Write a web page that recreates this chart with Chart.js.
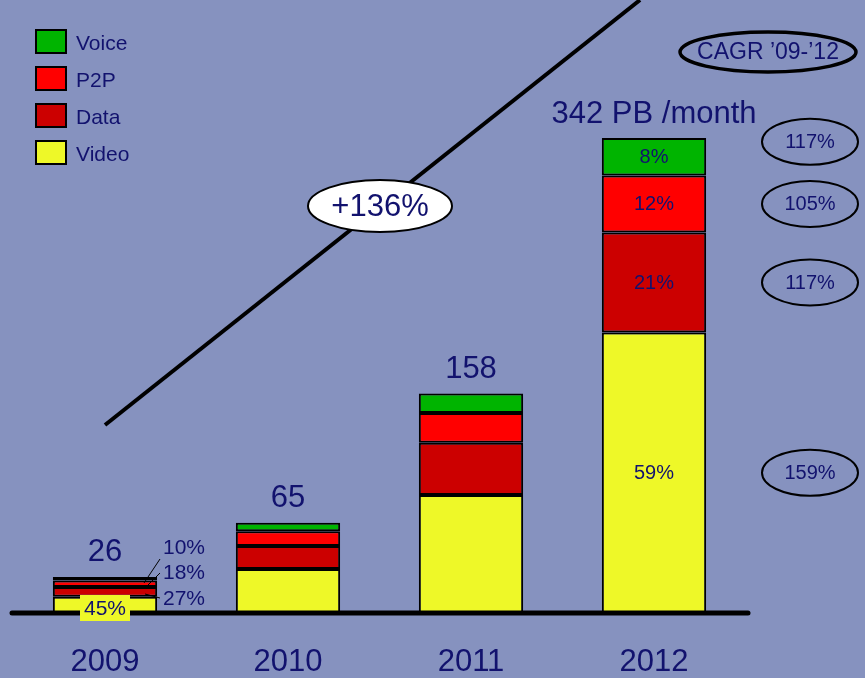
<!DOCTYPE html>
<html>
<head>
<meta charset="utf-8">
<script src="https://cdn.jsdelivr.net/npm/chart.js@4/dist/chart.umd.min.js"></script>
<style>
  html, body { margin: 0; padding: 0; background: #8692bf; }
  #wrap { width: 865px; height: 678px; position: relative; }
</style>
</head>
<body>
<div id="wrap"><canvas id="trafficChart" width="865" height="678"></canvas></div>
<script>
const years = ['2009', '2010', '2011', '2012'];
const video = [11.7, 31.7, 85, 202];
const data = [7.0, 16.6, 37.5, 72];
const p2p = [4.7, 10.5, 21.5, 41];
const voice = [2.6, 6.2, 14, 27];
const totalLabels = ['26', '65', '158', '342 PB /month'];
const totals = [26, 65, 158, 342];
const share2012 = ['59%', '21%', '12%', '8%'];   // video, data, p2p, voice
const share2009 = ['45%', '27%', '18%', '10%'];
const cagr = ['159%', '117%', '105%', '117%'];    // video, data, p2p, voice

const navy = '#12126e';
const font = '"Liberation Sans", Arial, sans-serif';

function ellipse(ctx, x, y, rx, ry, fill, lw) {
    ctx.beginPath();
    ctx.ellipse(x, y, rx, ry, 0, 0, Math.PI * 2);
    if (fill) { ctx.fillStyle = fill; ctx.fill(); }
    ctx.lineWidth = lw;
    ctx.strokeStyle = '#000';
    ctx.stroke();
}

const decor = {
    id: 'decor',
    afterDatasetsDraw(chart) {
        const ctx = chart.ctx;
        const xs = chart.scales.x, ys = chart.scales.y;
        ctx.save();

        // baseline
        ctx.strokeStyle = '#000';
        ctx.lineWidth = 5;
        ctx.lineCap = 'round';
        ctx.beginPath();
        ctx.moveTo(12, ys.getPixelForValue(0));
        ctx.lineTo(748, ys.getPixelForValue(0));
        ctx.stroke();

        // growth line
        ctx.lineWidth = 4;
        ctx.lineCap = 'butt';
        ctx.beginPath();
        ctx.moveTo(105, 425);
        ctx.lineTo(640, 0);
        ctx.stroke();

        ctx.textAlign = 'center';
        ctx.textBaseline = 'middle';

        // year labels
        ctx.fillStyle = navy;
        ctx.font = '31px ' + font;
        years.forEach((y, i) => ctx.fillText(y, xs.getPixelForValue(i), 662));

        // totals above bars
        totals.forEach((t, i) => {
            ctx.fillText(totalLabels[i], xs.getPixelForValue(i), ys.getPixelForValue(t) - 24);
        });

        // 2012 shares inside bar
        ctx.font = '20px ' + font;
        const x12 = xs.getPixelForValue(3);
        const series = [video, data, p2p, voice];
        let base = 0;
        series.forEach((s, k) => {
            const mid = ys.getPixelForValue(base + s[3] / 2);
            ctx.fillStyle = navy;
            ctx.fillText(share2012[k], x12, mid + 1);
            base += s[3];
        });

        // CAGR ellipses
        base = 0;
        series.forEach((s, k) => {
            let mid = ys.getPixelForValue(base + s[3] / 2);
            if (k === 3) mid -= 15;
            ellipse(ctx, 810, mid, 48, 23, null, 2);
            ctx.fillStyle = navy;
            ctx.fillText(cagr[k], 810, mid + 1);
            base += s[3];
        });

        ellipse(ctx, 768, 52, 88, 20, null, 3.5);
        ctx.fillStyle = navy;
        ctx.font = '23px ' + font;
        ctx.fillText('CAGR \u201909-\u201912', 768, 53);

        ellipse(ctx, 380, 206, 72, 26, '#ffffff', 2);
        ctx.fillStyle = navy;
        ctx.font = '31px ' + font;
        ctx.fillText('+136%', 380, 207);

        // 2009 shares with leaders
        ctx.font = '21px ' + font;
        ctx.textAlign = 'left';
        ctx.fillStyle = navy;
        ctx.fillText(share2009[3], 163, 548);
        ctx.fillText(share2009[2], 163, 573);
        ctx.fillText(share2009[1], 163, 599);
        ctx.strokeStyle = '#000';
        ctx.lineWidth = 1;
        ctx.beginPath();
        ctx.moveTo(160, 559); ctx.lineTo(144, 583);
        ctx.moveTo(160, 573); ctx.lineTo(145, 588);
        ctx.moveTo(160, 598); ctx.lineTo(145, 594);
        ctx.stroke();
        const x09 = xs.getPixelForValue(0);
        ctx.fillStyle = '#eef828';
        ctx.fillRect(x09 - 25, 595, 50, 26);
        ctx.fillStyle = navy;
        ctx.textAlign = 'center';
        ctx.fillText(share2009[0], x09, 609);

        // legend
        const ds = chart.data.datasets.slice().reverse();
        ctx.font = '21px ' + font;
        ctx.textAlign = 'left';
        ds.forEach((d, i) => {
            const y = 30 + i * 37;
            ctx.fillStyle = d.backgroundColor;
            ctx.fillRect(36, y, 30, 23);
            ctx.lineWidth = 2;
            ctx.strokeStyle = '#000';
            ctx.strokeRect(36, y, 30, 23);
            ctx.fillStyle = navy;
            ctx.fillText(d.label, 76, y + 14);
        });

        ctx.restore();
    }
};

const ctx = document.getElementById('trafficChart').getContext('2d');
new Chart(ctx, {
    type: 'bar',
    data: {
        labels: years,
        datasets: [
            { label: 'Video', data: video, backgroundColor: '#eef828' },
            { label: 'Data', data: data, backgroundColor: '#cc0000' },
            { label: 'P2P', data: p2p, backgroundColor: '#ff0000' },
            { label: 'Voice', data: voice, backgroundColor: '#00b400' }
        ].map(d => Object.assign(d, {
            borderColor: '#000',
            borderWidth: 2,
            borderSkipped: false,
            barPercentage: 0.57,
            categoryPercentage: 1
        }))
    },
    options: {
        responsive: false,
        animation: false,
        layout: { padding: { left: 13.5, right: 119.5, top: 57.4, bottom: 65 } },
        plugins: { legend: { display: false }, tooltip: { enabled: false } },
        scales: {
            x: { stacked: true, display: false },
            y: { stacked: true, display: false, min: 0, max: 400 }
        }
    },
    plugins: [decor]
});
</script>
</body>
</html>
